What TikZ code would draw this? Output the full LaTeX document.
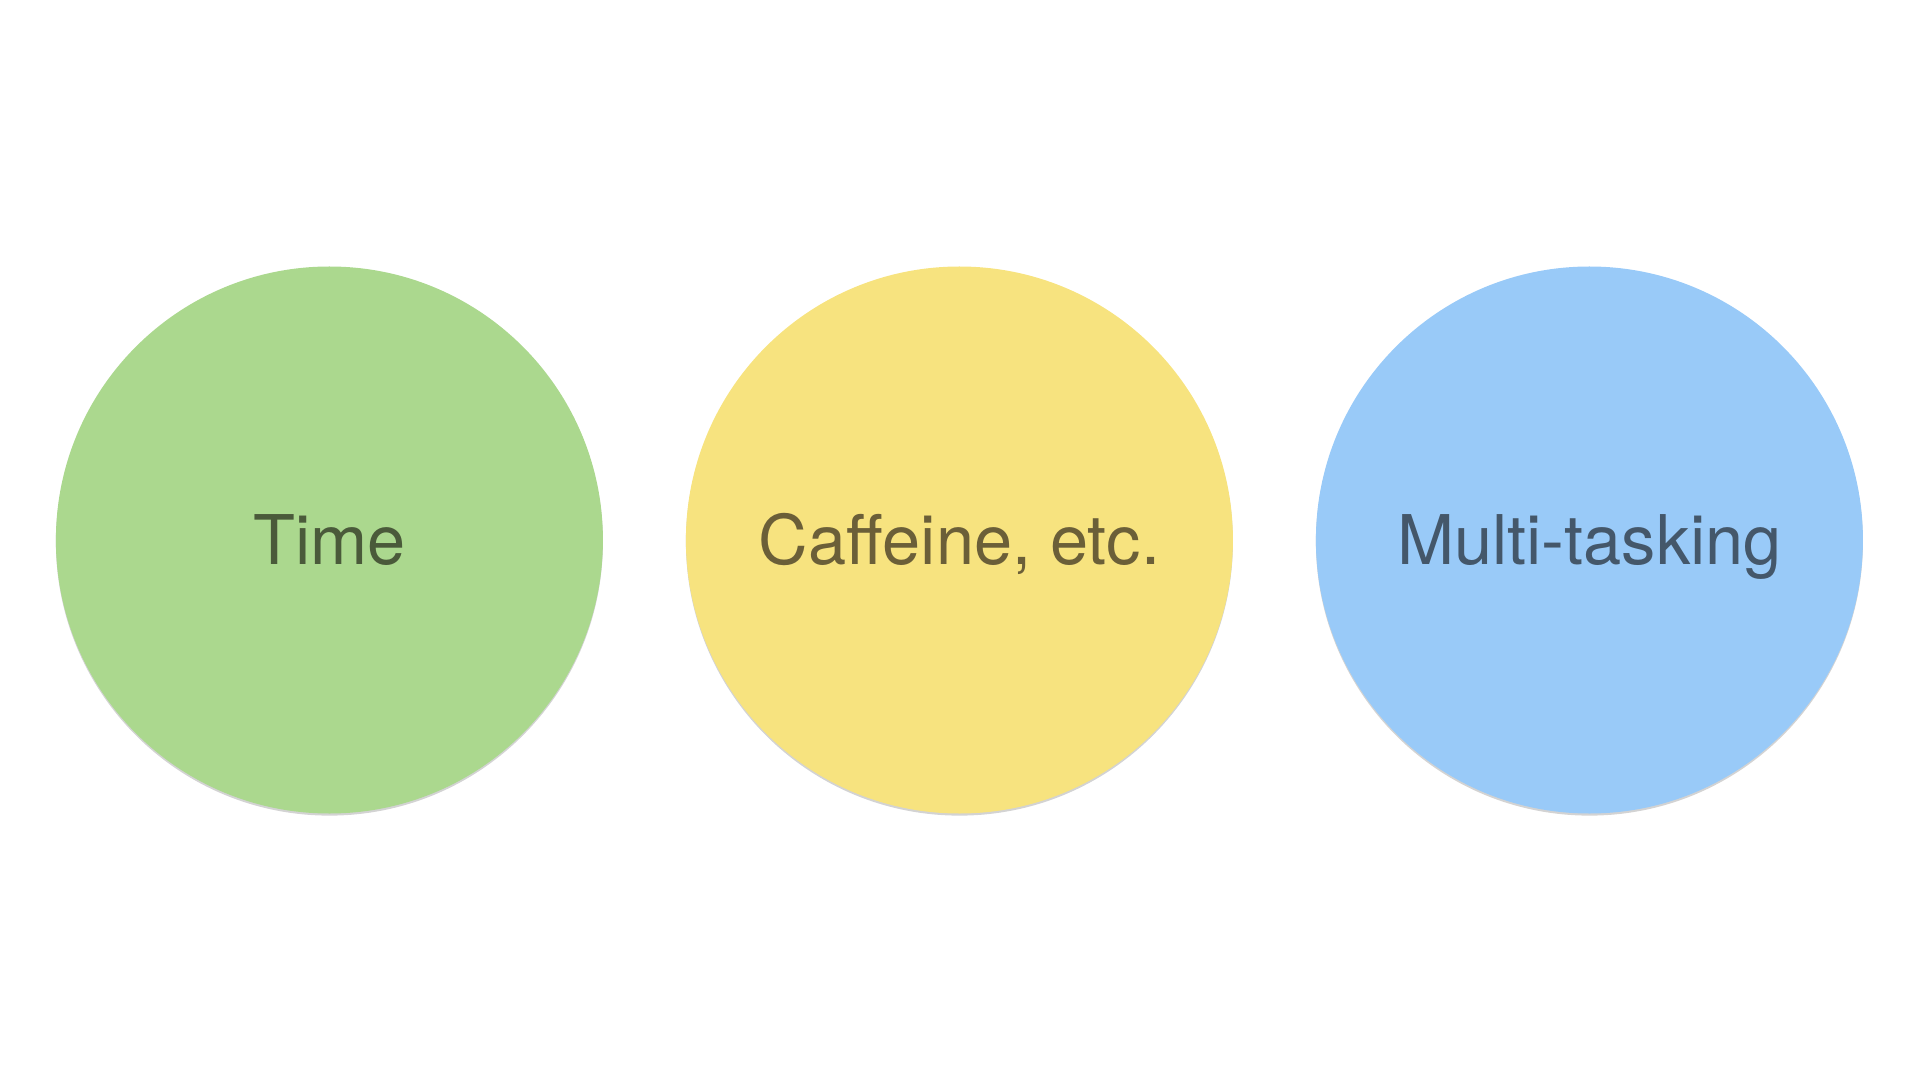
\documentclass[tikz,border=0pt]{standalone}
\usepackage{fontspec}
\setmainfont{TeX Gyre Heros}
\usepackage{tikz}
\usetikzlibrary{positioning,shadows}
\definecolor{timefill}{HTML}{ABD88E}
\definecolor{timetext}{HTML}{4A5A3A}
\definecolor{caffill}{HTML}{F7E37F}
\definecolor{caftext}{HTML}{6B5F38}
\definecolor{multifill}{HTML}{99CAF8}
\definecolor{multitext}{HTML}{44576A}

\begin{document}
\begin{tikzpicture}[node distance=6.3cm]
    \tikzstyle{blob}=[circle,inner sep=0pt,minimum size=5.47cm,
        text height=14pt,text depth=0pt,
        font=\fontsize{19.5}{23}\selectfont,
        drop shadow={shadow xshift=0pt,shadow yshift=-0.6pt,opacity=0.35,fill=gray}]

    \useasboundingbox (0,0) rectangle (19.2,-10.8);

    \node(time)  [blob,fill=timefill,text=timetext] at (3.294,-5.4) {Time};
    \node(caff)  [blob,fill=caffill,text=caftext,right of=time] {Caffeine, etc.};
    \node(multi) [blob,fill=multifill,text=multitext,right of=caff] {Multi-tasking};

\end{tikzpicture}
\end{document}
